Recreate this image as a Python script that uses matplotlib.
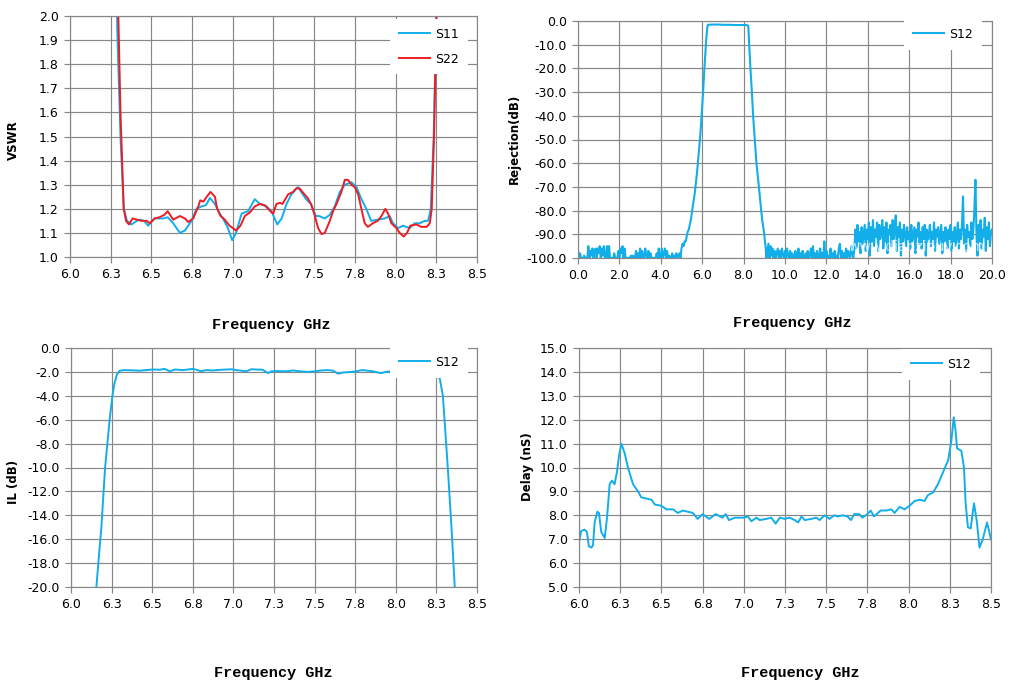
import numpy as np
import matplotlib
matplotlib.use('Agg')
import matplotlib.pyplot as plt

BLUE = '#12AEEA'
RED = '#EE1C24'
GRID = '#878787'

# VSWR (top left)
s11_f = [6.28, 6.29, 6.31, 6.33, 6.35, 6.378, 6.41, 6.43, 6.455, 6.48, 6.52, 6.573, 6.60,
         6.634, 6.675, 6.706, 6.747, 6.777, 6.808, 6.835, 6.859, 6.89, 6.92, 6.94, 6.97,
         6.996, 7.02, 7.054, 7.094, 7.135, 7.166, 7.207, 7.238, 7.273, 7.30, 7.33, 7.36,
         7.40, 7.42, 7.45, 7.48, 7.51, 7.53, 7.565, 7.596, 7.626, 7.657, 7.688, 7.729,
         7.76, 7.79, 7.82, 7.85, 7.89, 7.933, 7.964, 7.984, 8.015, 8.046, 8.087, 8.117,
         8.148, 8.179, 8.20, 8.216, 8.234, 8.25, 8.26]
s11_v = [2.6, 1.95, 1.5, 1.2, 1.15, 1.135, 1.15, 1.155, 1.15, 1.13, 1.16, 1.16, 1.165,
         1.14, 1.10, 1.11, 1.15, 1.20, 1.21, 1.215, 1.245, 1.22, 1.18, 1.16, 1.12,
         1.07, 1.10, 1.18, 1.19, 1.24, 1.22, 1.21, 1.19, 1.135, 1.16, 1.22, 1.26,
         1.29, 1.27, 1.24, 1.22, 1.17, 1.17, 1.16, 1.175, 1.21, 1.27, 1.30, 1.31,
         1.29, 1.24, 1.20, 1.15, 1.155, 1.16, 1.17, 1.14, 1.12, 1.13, 1.12, 1.14,
         1.14, 1.15, 1.15, 1.20, 1.50, 2.0, 2.6]

s22_f = [6.29, 6.297, 6.31, 6.33, 6.344, 6.362, 6.385, 6.41, 6.44, 6.47, 6.49, 6.52, 6.55,
         6.58, 6.60, 6.634, 6.675, 6.706, 6.726, 6.757, 6.788, 6.80, 6.82, 6.84, 6.863,
         6.89, 6.904, 6.925, 6.95, 6.98, 7.01, 7.02, 7.047, 7.074, 7.105, 7.135, 7.166,
         7.196, 7.217, 7.238, 7.248, 7.268, 7.29, 7.305, 7.34, 7.37, 7.39, 7.41, 7.44,
         7.46, 7.48, 7.50, 7.524, 7.545, 7.565, 7.596, 7.616, 7.637, 7.667, 7.688,
         7.708, 7.729, 7.749, 7.77, 7.79, 7.81, 7.83, 7.86, 7.89, 7.913, 7.937, 7.954,
         7.974, 8.005, 8.025, 8.05, 8.07, 8.09, 8.128, 8.158, 8.19, 8.21, 8.222, 8.236,
         8.254, 8.26]
s22_v = [2.6, 2.0, 1.6, 1.2, 1.15, 1.135, 1.16, 1.155, 1.15, 1.15, 1.14, 1.16, 1.165,
         1.175, 1.19, 1.155, 1.17, 1.16, 1.145, 1.16, 1.21, 1.235, 1.23, 1.25, 1.27,
         1.25, 1.20, 1.17, 1.155, 1.13, 1.115, 1.11, 1.13, 1.17, 1.185, 1.21, 1.22,
         1.215, 1.20, 1.185, 1.18, 1.22, 1.225, 1.22, 1.26, 1.27, 1.285, 1.285, 1.26,
         1.245, 1.22, 1.18, 1.12, 1.095, 1.10, 1.15, 1.19, 1.22, 1.27, 1.32,
         1.32, 1.30, 1.29, 1.26, 1.20, 1.14, 1.125, 1.14, 1.15, 1.17, 1.20, 1.18,
         1.14, 1.12, 1.10, 1.085, 1.10, 1.13, 1.135, 1.125, 1.125, 1.14, 1.20, 1.50,
         2.1, 2.6]

# Rejection (top right)
# floor below the passband, 0.00 .. 5.10 GHz every 0.05 GHz
rej_low_v = [-97, -100, -98, -100, -100, -100, -99, -100, -100, -100,
             -95, -100, -97, -99, -96, -100, -97, -96, -100, -96,
             -98, -95, -100, -96, -99, -95, -100, -100, -95, -100,
             -95, -100, -100, -100, -100, -98, -100, -100, -100, -97,
             -100, -96, -98, -95, -100, -96, -100, -100, -100, -100,
             -100, -99, -100, -99, -100, -100, -97, -100, -98, -100,
             -96, -100, -97, -100, -100, -96, -99, -100, -97, -100,
             -98, -100, -100, -100, -100, -100, -98, -100, -96, -100,
             -100, -96, -100, -98, -96, -100, -97, -100, -99, -100,
             -100, -98, -100, -99, -100, -98, -100, -99, -98, -100,
             -96, -94, -95]
rej_low_f = np.round(np.arange(len(rej_low_v)) * 0.05, 2)

# skirts and passband
rej_band_f = [5.15, 5.2, 5.25, 5.3, 5.35, 5.4, 5.45, 5.5, 5.55, 5.6, 5.65, 5.7, 5.75, 5.8,
              5.85, 5.9, 5.95, 6.0, 6.05, 6.1, 6.15, 6.2, 6.25, 6.28, 6.5, 6.8, 7.0, 7.3,
              7.6, 7.9, 8.1, 8.2, 8.23, 8.27, 8.33, 8.4, 8.46, 8.54, 8.62, 8.74, 8.85,
              8.9, 8.95, 9.0, 9.03, 9.07, 9.1]
rej_band_v = [-93, -93, -91, -89, -88, -86, -84, -81, -78, -75, -72, -68, -64, -59,
              -54, -49, -43, -36, -29, -21, -14, -7, -2.5, -1.6, -1.5, -1.5, -1.6, -1.6,
              -1.7, -1.7, -1.7, -1.8, -2.5, -10, -20, -30, -40, -50, -60, -70, -80,
              -84, -87, -90, -93, -96, -100]

# floor above the passband, 9.15 .. 13.35 GHz every 0.05 GHz
rej_mid_v = [-97, -94, -100, -95, -99, -96, -100, -97, -100, -98,
             -96, -100, -97, -100, -96, -99, -100, -97, -100, -96,
             -99, -100, -97, -100, -98, -100, -100, -97, -100, -99,
             -96, -100, -98, -100, -97, -100, -100, -98, -100, -97,
             -100, -99, -96, -100, -95, -100, -98, -100, -97, -100,
             -100, -96, -100, -98, -100, -93, -100, -97, -100, -99,
             -100, -96, -100, -98, -100, -97, -100, -99, -100, -96,
             -94, -100, -97, -100, -98, -100, -96, -100, -97, -99,
             -100, -95, -98, -100, -96]
rej_mid_f = np.round(9.15 + np.arange(len(rej_mid_v)) * 0.05, 2)

# raised noise, 13.40 .. 20.00 GHz every 0.05 GHz
rej_high_v = [-88, -96, -86, -93, -89, -98, -87, -94, -90, -86,
              -97, -88, -92, -85, -99, -87, -93, -84, -95, -88,
              -91, -85, -97, -86, -92, -89, -84, -96, -87, -93,
              -85, -98, -88, -90, -86, -95, -84, -92, -88, -82,
              -97, -87, -91, -85, -99, -88, -93, -86, -90, -95,
              -87, -92, -89, -96, -86, -93, -90, -87, -98, -88,
              -91, -85, -94, -89, -96, -87, -92, -86, -99, -88,
              -93, -90, -86, -95, -89, -92, -85, -97, -88, -91,
              -87, -94, -90, -86, -98, -89, -93, -87, -91, -96,
              -88, -92, -86, -97, -89, -93, -87, -95, -90, -85,
              -96, -88, -92, -86, -74, -94, -88, -97, -86, -91,
              -89, -95, -85, -92, -88, -79, -67, -90, -99, -86,
              -93, -84, -96, -88, -91, -83, -97, -87, -92, -85,
              -95, -89, -88]
rej_high_f = np.round(13.40 + np.arange(len(rej_high_v)) * 0.05, 2)

# Insertion loss (bottom left)
il_f = [6.15, 6.187, 6.21, 6.238, 6.255, 6.267, 6.283, 6.30, 6.33, 6.38, 6.42, 6.46, 6.505,
        6.546, 6.577, 6.608, 6.64, 6.69, 6.72, 6.75, 6.78, 6.80, 6.83, 6.875, 6.915,
        6.957, 6.988, 7.018, 7.05, 7.08, 7.11, 7.14, 7.18, 7.214, 7.234, 7.275, 7.326,
        7.37, 7.41, 7.46, 7.50, 7.54, 7.583, 7.614, 7.645, 7.675, 7.727, 7.758, 7.79,
        7.83, 7.86, 7.89, 7.91, 7.94, 7.97, 8.00, 8.1, 8.2, 8.25, 8.27, 8.29, 8.30,
        8.32, 8.343, 8.363, 8.37]
il_v = [-21, -15, -10, -6, -4, -3, -2.2, -1.9, -1.85, -1.87, -1.9, -1.85, -1.8,
        -1.82, -1.75, -1.95, -1.8, -1.85, -1.8, -1.75, -1.85, -1.95, -1.85, -1.88, -1.83,
        -1.8, -1.78, -1.85, -1.9, -1.95, -1.78, -1.8, -1.82, -2.1, -1.95, -1.93, -1.95,
        -1.88, -1.95, -2.0, -1.95, -1.88, -1.85, -1.9, -2.15, -2.05, -2.0, -1.95, -1.85,
        -1.9, -1.95, -2.05, -2.1, -2.0, -1.95, -2.0, -2.0, -2.1, -2.4, -2.5, -4.0, -6.0,
        -10, -15, -20, -21]

# Group delay (bottom right)
dl_f = [6.0, 6.014, 6.034, 6.048, 6.06, 6.075, 6.085, 6.095, 6.111, 6.121, 6.135, 6.156,
        6.17, 6.186, 6.2, 6.216, 6.23, 6.243, 6.257, 6.277, 6.297, 6.328, 6.358, 6.378,
        6.41, 6.44, 6.46, 6.5, 6.53, 6.57, 6.6, 6.63, 6.66, 6.69, 6.72, 6.75, 6.79, 6.83,
        6.87, 6.89, 6.91, 6.945, 6.995, 7.025, 7.046, 7.076, 7.096, 7.137, 7.167, 7.193,
        7.218, 7.248, 7.278, 7.309, 7.33, 7.35, 7.37, 7.41, 7.44, 7.46, 7.49, 7.52, 7.55,
        7.57, 7.6, 7.63, 7.65, 7.67, 7.7, 7.72, 7.75, 7.77, 7.79, 7.83, 7.865, 7.895,
        7.915, 7.945, 7.976, 8.006, 8.037, 8.067, 8.097, 8.118, 8.148, 8.178, 8.209, 8.24,
        8.259, 8.274, 8.284, 8.294, 8.32, 8.336, 8.346, 8.36, 8.377, 8.387, 8.397, 8.415,
        8.43, 8.45, 8.476, 8.5]
dl_v = [6.9, 7.35, 7.4, 7.3, 6.7, 6.65, 6.75, 7.7, 8.15, 8.1, 7.3, 7.05,
        7.9, 9.3, 9.45, 9.3, 9.8, 10.5, 11.0, 10.6, 10.0, 9.3, 9.0, 8.75,
        8.7, 8.65, 8.45, 8.4, 8.25, 8.25, 8.1, 8.2, 8.15, 8.1, 7.85, 8.05, 7.85, 8.05,
        7.9, 8.05, 7.8, 7.9, 7.9, 7.95, 7.75, 7.9, 7.8, 7.85, 7.9, 7.65,
        7.9, 7.85, 7.9, 7.8, 7.7, 7.95, 7.8, 7.85, 7.9, 7.8, 8.0, 7.85, 8.0,
        7.95, 8.0, 7.95, 7.8, 8.05, 8.05, 7.9, 8.05, 8.2, 7.95, 8.2, 8.2, 8.25,
        8.1, 8.35, 8.25, 8.4, 8.6, 8.65, 8.6, 8.85, 8.95, 9.3, 9.8, 10.3,
        11.1, 12.1, 11.6, 10.8, 10.7, 10.0, 8.5, 7.5, 7.45, 8.0, 8.5, 7.7,
        6.65, 7.0, 7.7, 7.0]

band_ticks = [6.0, 6.25, 6.5, 6.75, 7.0, 7.25, 7.5, 7.75, 8.0, 8.25, 8.5]
band_labels = ['6.0', '6.3', '6.5', '6.8', '7.0', '7.3', '7.5', '7.8', '8.0', '8.3', '8.5']

W, H = 1010, 693
fig = plt.figure(figsize=(W / 100, H / 100), dpi=100)


def make_ax(x0, x1, y0, y1):
    ax = fig.add_axes([x0 / W, 1 - y1 / H, (x1 - x0) / W, (y1 - y0) / H])
    ax.grid(True, color=GRID, linewidth=0.85)
    ax.set_axisbelow(True)
    for sp in ax.spines.values():
        sp.set_color(GRID)
        sp.set_linewidth(0.85)
    ax.tick_params(length=4, width=0.85, color=GRID, labelsize=9, pad=4)
    return ax


def legend(ax, ax_box, left, top):
    x0, x1, y0, y1 = ax_box
    lg = ax.legend(loc='upper left',
                   bbox_to_anchor=((left - x0) / (x1 - x0), 1 - (top - y0) / (y1 - y0)),
                   fontsize=9, frameon=True, fancybox=False, framealpha=1,
                   facecolor='white', edgecolor='none', handlelength=2.5,
                   handletextpad=0.4, labelspacing=0.95, borderpad=0.7,
                   borderaxespad=0)
    return lg


def xlabel(x, y):
    fig.text(x / W, 1 - y / H, 'Frequency GHz', ha='center', va='center',
             fontsize=11, fontweight='bold', family='Liberation Mono')


def ylabel(x, y, s):
    fig.text(x / W, 1 - y / H, s, ha='center', va='center', rotation=90,
             fontsize=8.5, fontweight='bold')


# top left: VSWR
box1 = (70, 477, 16, 257)
ax1 = make_ax(*box1)
ax1.plot(s11_f, s11_v, color=BLUE, lw=1.4, label='S11')
ax1.plot(s22_f, s22_v, color=RED, lw=1.4, label='S22')
ax1.set_xlim(6.0, 8.5)
ax1.set_ylim(1.0, 2.0)
ax1.set_xticks(band_ticks)
ax1.set_xticklabels(band_labels)
ax1.set_yticks(np.round(np.arange(10, 21) * 0.1, 1))
ax1.set_yticklabels(['%.1f' % v for v in np.arange(10, 21) * 0.1])
legend(ax1, box1, 390, 19)
xlabel(271, 325)
ylabel(13, 140, 'VSWR')

# top right: rejection
box2 = (578, 992, 21, 258)
ax2 = make_ax(*box2)
rej_f = np.concatenate([rej_low_f, rej_band_f, rej_mid_f, rej_high_f])
rej_v = np.concatenate([rej_low_v, rej_band_v, rej_mid_v, rej_high_v])
ax2.plot(rej_f, rej_v, color=BLUE, lw=1.5, label='S12')
ax2.set_xlim(0, 20)
ax2.set_ylim(-100, 0)
ax2.set_xticks(np.arange(0, 21, 2))
ax2.set_xticklabels(['%.1f' % v for v in np.arange(0, 21, 2)])
ax2.set_yticks(np.arange(-100, 1, 10))
ax2.set_yticklabels(['%.1f' % v for v in np.arange(-100, 1, 10)])
legend(ax2, box2, 904, 19)
ax2.text(917 / W, 1 - 247 / H, 'www.dianzibuy.com', transform=fig.transFigure,
         ha='center', va='center', fontsize=10, color='white', alpha=0.7)
xlabel(792, 323)
ylabel(514, 139, 'Rejection(dB)')

# bottom left: insertion loss
box3 = (71, 477, 348, 587)
ax3 = make_ax(*box3)
ax3.plot(il_f, il_v, color=BLUE, lw=1.4, label='S12')
ax3.set_xlim(6.0, 8.5)
ax3.set_ylim(-20, 0)
ax3.set_xticks(band_ticks)
ax3.set_xticklabels(band_labels)
ax3.set_yticks(np.arange(-20, 1, 2))
ax3.set_yticklabels(['%.1f' % v for v in np.arange(-20, 1, 2)])
legend(ax3, box3, 390, 347)
xlabel(273, 673)
ylabel(13, 482, 'IL (dB)')

# bottom right: delay
box4 = (579, 991, 348, 587)
ax4 = make_ax(*box4)
ax4.plot(dl_f, dl_v, color=BLUE, lw=1.4, label='S12')
ax4.set_xlim(6.0, 8.5)
ax4.set_ylim(5, 15)
ax4.set_xticks(band_ticks)
ax4.set_xticklabels(band_labels)
ax4.set_yticks(np.arange(5, 16, 1))
ax4.set_yticklabels(['%.1f' % v for v in np.arange(5, 16, 1)])
legend(ax4, box4, 902, 349)
xlabel(800, 673)
ylabel(527, 467, 'Delay (nS)')

fig.savefig('out.png', dpi=100)
